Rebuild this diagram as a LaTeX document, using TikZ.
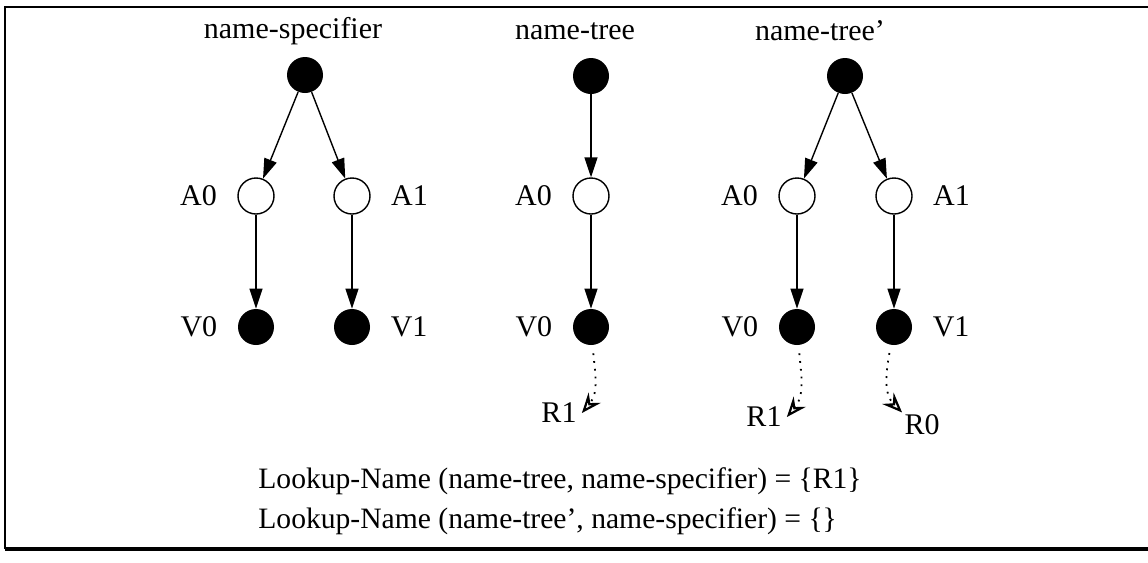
\documentclass[tikz,border=0pt]{standalone}
\usepackage{fontspec}
\setmainfont{Liberation Serif}
\usetikzlibrary{arrows.meta,positioning}
\tikzset{
  full/.style={circle,fill=black,minimum size=18pt,inner sep=0pt},
  hollow/.style={circle,draw,line width=0.7pt,minimum size=18pt,inner sep=0pt},
  tag/.style={inner sep=0pt,font=\fontsize{15}{18}\selectfont},
  link/.style={line width=0.7pt,-{Triangle[length=10pt,width=6.5pt]}},
  ref/.style={line width=0.9pt,dash pattern=on 0.9pt off 3pt,shorten <=4pt,
    -{Stealth[open,length=10pt,width=8pt,inset=3.5pt,line width=1.1pt]}}
}

\begin{document}
\begin{tikzpicture}[x=0.5pt,y=-0.5pt]
  \useasboundingbox (0,0) rectangle (1148,563);
  % frame
  \draw[line width=1pt] (1148,7) -- (5,7) -- (5,549);
  \draw[line width=2pt] (5,549) -- (1148,549);

  % name-specifier
  \node[tag] (stitle) at (293,31) {name-specifier};
  \node[full] (sroot) at (305,75) {};
  \node[hollow] (sa0) at (256,196) {};
  \node[hollow] (sa1) at (352,196) {};
  \node[full] (sv0) at (256,327) {};
  \node[full] (sv1) at (352,327) {};
  \node[tag,left=10pt of sa0] (sa0l) {A0};
  \node[tag,right=10pt of sa1] (sa1l) {A1};
  \node[tag,left=10pt of sv0] (sv0l) {V0};
  \node[tag,right=10pt of sv1] (sv1l) {V1};
  \draw[link] (sroot) -- (sa0);
  \draw[link] (sroot) -- (sa1);
  \draw[link] (sa0) -- (sv0);
  \draw[link] (sa1) -- (sv1);

  % name-tree
  \node[tag] (mtitle) at (575,31) {name-tree};
  \node[full] (mroot) at (591,76) {};
  \node[hollow] (ma0) at (591,196) {};
  \node[full] (mv0) at (591,327) {};
  \node[tag,left=10pt of ma0] (ma0l) {A0};
  \node[tag,left=10pt of mv0] (mv0l) {V0};
  \node[tag] (mr1) at (559,413) {R1};
  \draw[link] (mroot) -- (ma0);
  \draw[link] (ma0) -- (mv0);
  \draw[ref] (mv0) to[out=-85,in=50] ([xshift=2.5pt]mr1.east);

  % name-tree'
  \node[tag] (rtitle) at (820,31) {name-tree’};
  \node[full] (rroot) at (845,76) {};
  \node[hollow] (ra0) at (797,196) {};
  \node[hollow] (ra1) at (894,196) {};
  \node[full] (rv0) at (797,327) {};
  \node[full] (rv1) at (894,327) {};
  \node[tag,left=10pt of ra0] (ra0l) {A0};
  \node[tag,right=10pt of ra1] (ra1l) {A1};
  \node[tag,left=10pt of rv0] (rv0l) {V0};
  \node[tag,right=10pt of rv1] (rv1l) {V1};
  \node[tag] (rr1) at (764,417) {R1};
  \node[tag] (rr0) at (922,425) {R0};
  \draw[link] (rroot) -- (ra0);
  \draw[link] (rroot) -- (ra1);
  \draw[link] (ra0) -- (rv0);
  \draw[link] (ra1) -- (rv1);
  \draw[ref] (rv0) to[out=-85,in=50] ([xshift=2.5pt]rr1.east);
  \draw[ref] (rv1) to[out=-100,in=135] ([xshift=-1pt,yshift=1pt]rr0.north west);

  % lookups
  \node[tag,anchor=west,font=\fontsize{14.8}{18}\selectfont] (look1) at (258,481)
    {Lookup-Name (name-tree, name-specifier) = \{R1\}};
  \node[tag,anchor=west,font=\fontsize{14.8}{18}\selectfont] (look2) at (258,521)
    {Lookup-Name (name-tree’, name-specifier) = \{\}};
\end{tikzpicture}
\end{document}
